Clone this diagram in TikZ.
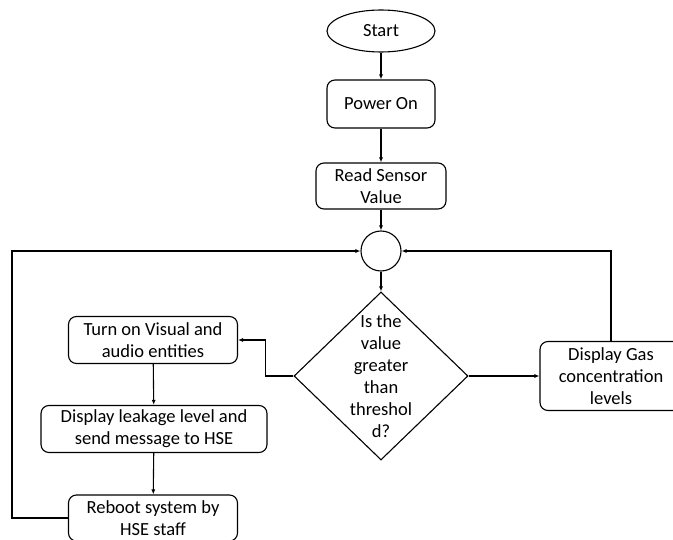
\documentclass[tikz,border=0pt]{standalone}
\usepackage{fontspec}
\setmainfont{Carlito}
\usetikzlibrary{shapes.geometric,arrows.meta}
\tikzset{
	flowbox/.style={draw, rounded corners=8pt, align=center, inner sep=2pt},
	flowline/.style={line width=1.1pt, -{Latex[length=5pt,width=4pt]}},
}

\begin{document}
\begin{tikzpicture}[x=1pt,y=-1pt, line width=1.1pt, font=\fontsize{18.5}{22}\selectfont]
			%%%%% START %%%%%
			\def\xmid{381}
			\def\ygas{376}
			\useasboundingbox (0,0) rectangle (673,540);
			\clip (0,0) rectangle (673,540);
			
			\node[draw, ellipse, minimum width=108pt, minimum height=42pt, inner sep=0pt] (start) at (\xmid,31) {Start};
			\node[flowbox, minimum width=108pt, minimum height=48pt] (power) at (\xmid,104) {Power On};
			\node[flowbox, minimum width=130pt, minimum height=46pt] (read) at (\xmid,186) {Read Sensor\\Value};
			\node[draw, circle, minimum size=40pt, inner sep=0pt] (merge) at (\xmid,251) {};
			\node[draw, diamond, minimum width=174pt, minimum height=168pt, inner sep=-6pt, align=center] (check) at (\xmid,\ygas) {Is the\\value\\greater\\than\\threshol\\d?};
			\node[flowbox, minimum width=142pt, minimum height=69pt] (gas) at (611,\ygas) {Display Gas\\concentration\\levels};
			
			\node[flowbox, minimum width=169pt, minimum height=47pt] (visual) at (153,340) {Turn on Visual and\\audio entities};
			\node[flowbox, minimum width=226pt, minimum height=47pt] (leak) at (154,429) {Display leakage level and\\send message to HSE};
			\node[flowbox, minimum width=169pt, minimum height=46pt] (reboot) at (153,518) {Reboot system by\\HSE staff};
			
			\draw[flowline] (start) -- (power);
			\draw[flowline] (power) -- (read);
			\draw[flowline] (read) -- (merge);
			\draw[flowline] (merge) -- (check);
			\draw[flowline] (check.east) -- (gas.west);
			\draw[flowline] (gas.north) |- (merge.east);
			\draw[flowline] (check.west) -- ++(-28,0) |- (visual.east);
			\draw[flowline] (visual) -- (leak);
			\draw[flowline] (leak) -- (reboot);
			\draw[flowline] (reboot.west) -- ++(-56,0) |- (merge.west);
			%%%%% END %%%%%
\end{tikzpicture}
\end{document}
